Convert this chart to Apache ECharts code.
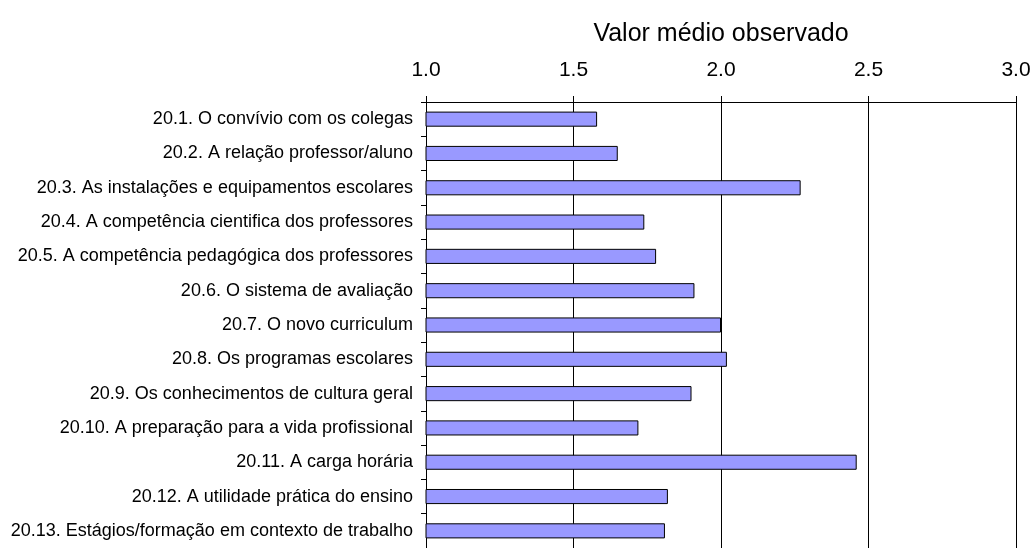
<!DOCTYPE html>
<html>
<head>
    <meta charset="utf-8" />
    <title></title>
    <script src="https://cdn.jsdelivr.net/npm/echarts@6/dist/echarts.min.js"></script>
    <style>
        html, body { margin: 0; padding: 0; background: #fff; }
    </style>
</head>
<body>
    <div id="main" style="width:1034px;height:548px;"></div>
    <script>
        // 类目与数据
        var categories = [
            '20.1. O convívio com os colegas',
            '20.2. A relação professor/aluno',
            '20.3. As instalações e equipamentos escolares',
            '20.4. A competência cientifica dos professores',
            '20.5. A competência pedagógica dos professores',
            '20.6. O sistema de avaliação',
            '20.7. O novo curriculum',
            '20.8. Os programas escolares',
            '20.9. Os conhecimentos de cultura geral',
            '20.10. A preparação para a vida profissional',
            '20.11. A carga horária',
            '20.12. A utilidade prática do ensino',
            '20.13. Estágios/formação em contexto de trabalho'
        ];
        var meanValues = [1.58, 1.65, 2.27, 1.74, 1.78, 1.91, 2.00, 2.02, 1.90, 1.72, 2.46, 1.82, 1.81];
        var axisMin = 1.0, axisMax = 3.0, axisStep = 0.5;

        var font = 'Liberation Sans, Arial, sans-serif';
        var chart = echarts.init(document.getElementById('main'));
        chart.setOption({
            backgroundColor: '#fff',
            animation: false,
            grid: { left: 426, right: 18, top: 102, height: 450 },
            xAxis: {
                type: 'value',
                position: 'top',
                min: axisMin,
                max: axisMax,
                interval: axisStep,
                name: 'Valor médio observado',
                nameLocation: 'middle',
                nameGap: 55,
                nameTextStyle: { fontSize: 25, color: '#000', fontFamily: font },
                axisLine: { show: true, lineStyle: { color: '#000', width: 1 } },
                axisTick: { show: true, length: 6, lineStyle: { color: '#000' } },
                axisLabel: {
                    fontSize: 21, color: '#000', fontFamily: font, margin: 21,
                    formatter: function (v) { return v.toFixed(1); }
                },
                splitLine: { show: true, lineStyle: { color: '#000', width: 1 } }
            },
            yAxis: {
                type: 'category',
                data: categories,
                inverse: true,
                axisLine: { show: true, lineStyle: { color: '#000', width: 1 } },
                axisTick: { show: true, length: 5, lineStyle: { color: '#000' } },
                axisLabel: { fontSize: 18, color: '#000', fontFamily: font, margin: 13 },
                splitLine: { show: false }
            },
            series: [{
                type: 'bar',
                data: meanValues,
                barWidth: '44%',
                itemStyle: { color: '#9999FF', borderColor: '#000', borderWidth: 1 }
            }]
        });
    </script>
</body>
</html>
